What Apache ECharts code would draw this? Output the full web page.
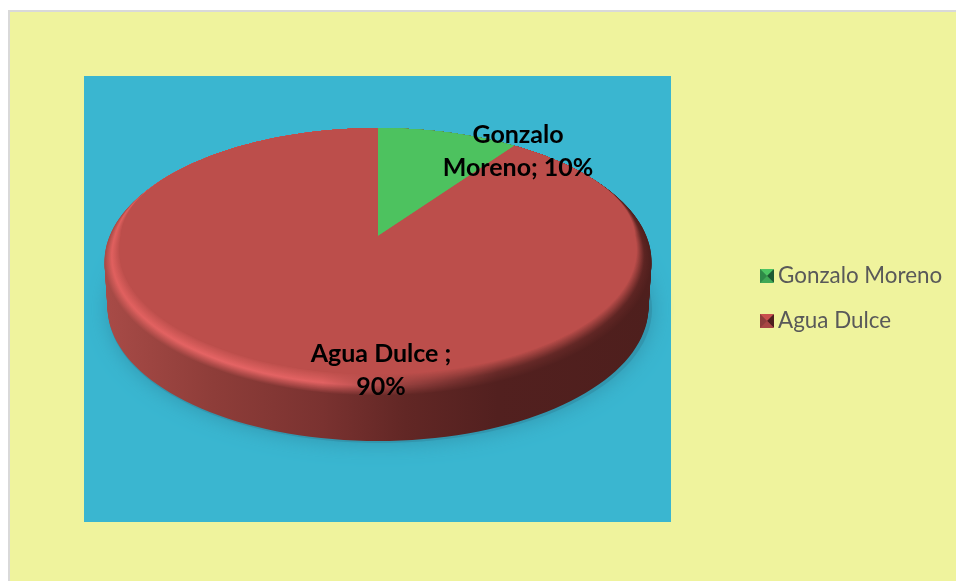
<!DOCTYPE html>
<html>
<head>
<meta charset="utf-8">
<style>
html, body { margin: 0; padding: 0; background: #fff; }
#chart { width: 956px; height: 581px; }
</style>
<script src="https://cdn.jsdelivr.net/npm/echarts@6/dist/echarts.min.js"></script>
</head>
<body>
<div id="chart"></div>
<script>
// datos
var categories = ['Gonzalo Moreno', 'Agua Dulce'];
var values = [10, 90];
var labelTexts = ['Gonzalo\nMoreno; 10%', 'Agua Dulce ;\n90%'];
var sliceColors = ['#4DC25F', '#BC4E4B'];

var total = values[0] + values[1];

// perspective disc: apex of the slices, half axes seen from the apex
var apexX = 378, apexY = 236;
var discR = 273.5, discBack = 108, discFront = 160;
var wallHeight = 45, wallShrink = 3;
var rimSteps = 24;

var persK = (discFront - discBack) / (discFront + discBack);
var persB = discBack * (1 + persK);

// colours along the disc width, same offsets for wall and bevel
var stopOffsets = [0, 0.2, 0.4, 0.55, 0.72, 1];
var wallColors = [[168, 75, 71], [142, 61, 57], [122, 50, 48], [98, 39, 37], [82, 32, 31], [78, 31, 29]];
var lightColors = [[224, 96, 94], [230, 100, 100], [226, 98, 98], [150, 64, 62], [104, 42, 40], [92, 36, 34]];

function gradient(list) {
  return {
    type: 'linear', global: true, x: 104, y: 0, x2: 651, y2: 0,
    colorStops: stopOffsets.map(function (o, i) {
      return { offset: o, color: 'rgb(' + list[i].map(Math.round).join(',') + ')' };
    })
  };
}

function mix3(a, b, t) {
  return [a[0] + (b[0] - a[0]) * t, a[1] + (b[1] - a[1]) * t, a[2] + (b[2] - a[2]) * t];
}

function hexRgb(h) {
  return [parseInt(h.substr(1, 2), 16), parseInt(h.substr(3, 2), 16), parseInt(h.substr(5, 2), 16)];
}

// how far the bevel eats into the disc at angle th (0 = back, pi = front)
function bevelDepth(th) {
  var c = Math.cos(th);
  if (c > 0.55) return 0;
  if (c > 0) {
    var u = (0.55 - c) / 0.55;
    return 0.042 * u * u;
  }
  return 0.042 + 0.07 * (-c);
}

// slice outline in perspective; inset goes 0..1 across the bevel
function slicePoints(from, to, inset, shift, shrink) {
  var a = (discR - shrink) * Math.sqrt(1 - persK * persK);
  var pts = [[apexX, apexY + shift]];
  var n = Math.max(4, Math.ceil((to - from) / (Math.PI * 2) * 180));
  for (var i = 0; i <= n; i++) {
    var th = from + (to - from) * i / n;
    var r = 1 - inset * bevelDepth(th);
    var w = 1 + persK * r * Math.cos(th);
    pts.push([apexX + a * r * Math.sin(th) / w, apexY + shift - persB * r * Math.cos(th) / w]);
  }
  return pts;
}

function renderSlice(params, api) {
  var idx = params.seriesIndex;
  var before = 0;
  for (var i = 0; i < idx; i++) before += values[i];
  var from = before / total * Math.PI * 2;
  var to = (before + api.value(0)) / total * Math.PI * 2;
  var face = hexRgb(sliceColors[idx]);
  var kids = [];

  // wall
  for (var s = 0; s <= wallHeight; s += 1.5) {
    kids.push({
      type: 'polygon', z2: 2, silent: true,
      shape: { points: slicePoints(from, to, 0, s, wallShrink * s / wallHeight) },
      style: { fill: gradient(wallColors) }
    });
  }
  // bevel: wall colour, up to the light band, then down to the face
  for (var j = 0; j <= rimSteps; j++) {
    var t = j / rimSteps;
    var cols = wallColors.map(function (c, n) {
      return t < 0.45 ? mix3(c, lightColors[n], t / 0.45)
        : mix3(lightColors[n], face, (t - 0.45) / 0.55);
    });
    kids.push({
      type: 'polygon', z2: 3 + j, silent: true,
      shape: { points: slicePoints(from, to, t, 0, 0) },
      style: { fill: gradient(cols) }
    });
  }
  // flat face of the slice
  kids.push({
    type: 'polygon', z2: 40 + idx, silent: true,
    shape: { points: slicePoints(from, to, 1, 0, 0) },
    style: { fill: sliceColors[idx] }
  });
  return { type: 'group', children: kids };
}

var chart = echarts.init(document.getElementById('chart'));

var seriesList = categories.map(function (name, i) {
  return {
    name: name,
    type: 'custom',
    coordinateSystem: 'none',
    silent: true,
    animation: false,
    clip: false,
    itemStyle: { color: sliceColors[i] },
    renderItem: renderSlice,
    data: [[values[i]]]
  };
});

// legend key is a small pyramid, four shaded triangles over the legend symbol
var bevel = function (x, y, top, right, bottom, left) {
  var c = [x + 7, y + 7];
  var tri = function (p, q, col) {
    return { type: 'polygon', z: 20, shape: { points: [p, q, c] }, style: { fill: col } };
  };
  return [
    tri([x, y], [x + 14, y], top),
    tri([x + 14, y], [x + 14, y + 14], right),
    tri([x + 14, y + 14], [x, y + 14], bottom),
    tri([x, y + 14], [x, y], left)
  ];
};

chart.setOption({
  backgroundColor: '#fff',
  animation: false,
  legend: {
    orient: 'vertical',
    left: 760,
    top: 263,
    padding: 0,
    itemWidth: 13,
    itemHeight: 14,
    itemGap: 19,
    icon: 'rect',
    selectedMode: false,
    textStyle: { fontFamily: 'Lato', fontSize: 22.4, color: '#595959', lineHeight: 26 },
    data: [
      { name: categories[0], itemStyle: { color: '#3F9C50' } },
      { name: categories[1], itemStyle: { color: '#A94A47' } }
    ]
  },
  graphic: [
    { type: 'rect', z: -10, shape: { x: 8, y: 10, width: 948, height: 571 }, style: { fill: '#D9D9D9' } },
    { type: 'rect', z: -9, shape: { x: 10, y: 12, width: 946, height: 569 }, style: { fill: '#EFF39D' } },
    { type: 'rect', z: -8, shape: { x: 84, y: 76, width: 587, height: 446 }, style: { fill: '#3AB6D0' } },
    // soft shadow on the plot area
    { type: 'ellipse', z: -7, shape: { cx: 380, cy: 309, rx: 272, ry: 134 }, style: { fill: '#3296AE', shadowBlur: 20, shadowColor: '#3296AE' } },
    { type: 'text', z: 30, style: { x: 518, y: 151, text: labelTexts[0], fill: '#000', align: 'center', verticalAlign: 'middle', font: 'bold 25px Lato', lineHeight: 33 } },
    { type: 'text', z: 30, style: { x: 381, y: 370, text: labelTexts[1], fill: '#000', align: 'center', verticalAlign: 'middle', font: 'bold 25px Lato', lineHeight: 33 } }
  ].concat(
    bevel(760, 269, '#4CC463', '#1D5A33', '#3FA856', '#2E8A48'),
    bevel(760, 314, '#C9504E', '#4D1F1E', '#A84644', '#8E3D3B')
  ),
  series: seriesList
});
</script>
</body>
</html>
